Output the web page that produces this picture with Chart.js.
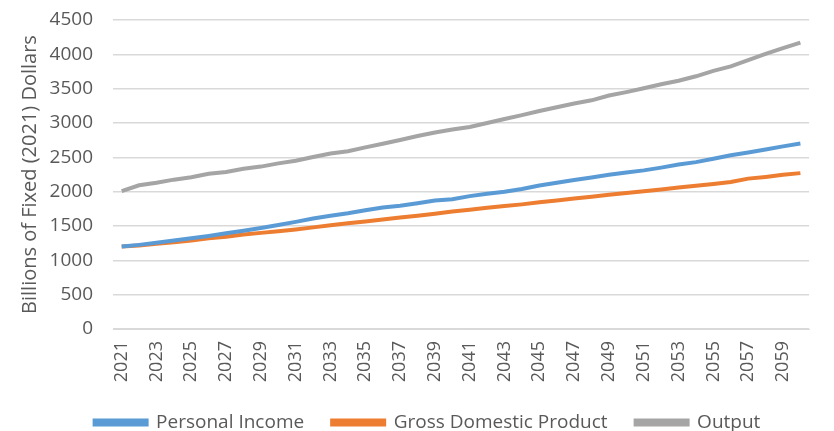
<!DOCTYPE html>
<html>
<head>
<meta charset="utf-8">
<script src="https://cdn.jsdelivr.net/npm/chart.js@4/dist/chart.umd.min.js"></script>
<style>
  html, body { margin: 0; padding: 0; background: #fff; }
  #wrap { width: 834px; height: 431px; }
</style>
</head>
<body>
<div id="wrap"><canvas id="projChart"></canvas></div>
<script>
// Años 2021 - 2060
const years = ['2021','2022','2023','2024','2025','2026','2027','2028','2029','2030',
  '2031','2032','2033','2034','2035','2036','2037','2038','2039','2040',
  '2041','2042','2043','2044','2045','2046','2047','2048','2049','2050',
  '2051','2052','2053','2054','2055','2056','2057','2058','2059','2060'];

const personalIncome = [1200,1225,1255,1290,1320,1355,1395,1430,1470,1515,
  1560,1610,1650,1685,1730,1770,1795,1830,1870,1890,
  1935,1970,2000,2040,2090,2130,2170,2205,2245,2280,
  2310,2350,2395,2430,2480,2530,2570,2615,2660,2700];

const gdp = [1200,1215,1240,1265,1290,1320,1345,1375,1400,1425,
  1450,1480,1510,1540,1565,1595,1625,1650,1680,1710,
  1735,1765,1790,1815,1845,1870,1900,1925,1955,1980,
  2005,2030,2060,2085,2110,2140,2190,2215,2245,2270];

const output = [2008,2093,2130,2175,2210,2262,2287,2333,2365,2412,
  2450,2505,2555,2588,2645,2698,2752,2810,2862,2905,
  2943,3000,3058,3115,3175,3230,3285,3330,3400,3450,
  3505,3565,3615,3680,3760,3825,3915,4005,4090,4170];

const yTicks = [0,500,1000,1500,2000,2500,3000,3500,4000,4500];

const textColor = '#595959';
const fontFamily = '"Open Sans", "Liberation Sans", sans-serif';

function serie(label, data, color) {
    return {
        label: label,
        data: data,
        borderColor: color,
        backgroundColor: color,
        borderWidth: 4,
        pointRadius: 0,
        tension: 0
    };
}

const ctx = document.getElementById('projChart').getContext('2d');
new Chart(ctx, {
    type: 'line',
    data: {
        labels: years,
        datasets: [
            serie('Personal Income', personalIncome, '#5B9BD5'),
            serie('Gross Domestic Product', gdp, '#ED7D31'),
            serie('Output', output, '#A5A5A5')
        ]
    },
    options: {
        responsive: true,
        maintainAspectRatio: false,
        animation: false,
        layout: { padding: { top: 20, right: 1, bottom: -11, left: 22 } },
        plugins: {
            legend: {
                position: 'bottom',
                labels: {
                    color: textColor,
                    font: { family: fontFamily, size: 19 },
                    boxWidth: 52,
                    boxHeight: 4,
                    padding: 28
                }
            },
            tooltip: { enabled: false }
        },
        scales: {
            x: {
                offset: true,
                grid: { display: false, drawTicks: false },
                border: { display: true, color: '#d9d9d9' },
                afterFit: function(scale) { scale.height = 56; },
                ticks: {
                    color: textColor,
                    font: { family: fontFamily, size: 18 },
                    autoSkip: false,
                    maxRotation: 90,
                    minRotation: 90,
                    padding: 12,
                    callback: function(val, i) {
                        return i % 2 === 0 ? years[i] : '';
                    }
                }
            },
            y: {
                min: 0,
                max: 4500,
                afterBuildTicks: function(scale) {
                    scale.ticks = yTicks.map(v => ({ value: v }));
                },
                afterFit: function(scale) {
                    scale.width = 91;
                    scale.paddingTop = 10;
                    scale.paddingBottom = 10;
                },
                grid: { color: '#d9d9d9', drawTicks: false, lineWidth: 1.5 },
                border: { display: false },
                ticks: {
                    color: textColor,
                    font: { family: fontFamily, size: 19 },
                    padding: 20,
                    callback: function(v) { return String(v); }
                },
                title: {
                    display: true,
                    text: 'Billions of Fixed (2021) Dollars',
                    color: textColor,
                    font: { family: fontFamily, size: 20 },
                    padding: { top: -4, bottom: 0 }
                }
            }
        }
    }
});
</script>
</body>
</html>
